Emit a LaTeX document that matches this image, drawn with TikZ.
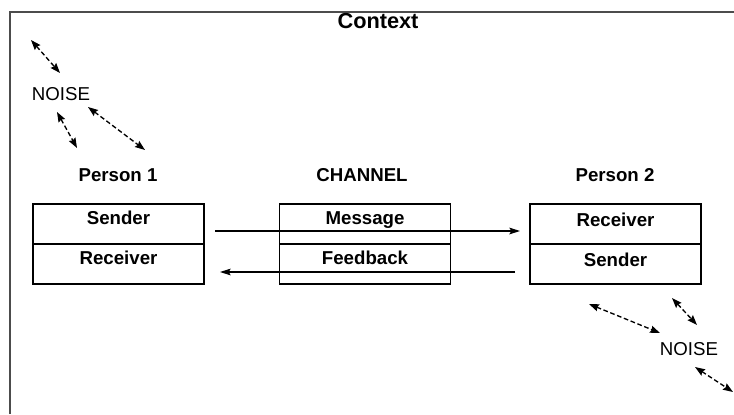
\documentclass[tikz,border=0pt]{standalone}
\usepackage{fontspec}
\setmainfont{Liberation Sans}
\usetikzlibrary{calc}
\usetikzlibrary{arrows.meta}
\usetikzlibrary{positioning}

\newcommand\mainsize{\fontsize{14}{16}\selectfont}

\tikzset{
  cell/.style={draw,line width=1.1pt,outer sep=0pt,inner sep=0pt,
    minimum width=128.25pt,minimum height=30pt,font=\mainsize\bfseries,
    text height=10pt,text depth=9pt},
  heading/.style={font=\mainsize\bfseries},
  flow/.style={line width=0.8pt,-{Stealth[length=8pt,width=5pt,inset=1.5pt]}},
  noisy/.style={line width=1pt,dash pattern=on 3.5pt off 2pt,
    {Stealth[length=7.5pt,width=5.5pt,inset=1pt]}-{Stealth[length=7.5pt,width=5.5pt,inset=1pt]}}
}

% two stacked cells: name, x, upper text, lower text, extra options
\newcommand\commbox[5]{
  \node[cell,#5] (#1top) at (#2,224) {#3};
  \node[cell,#5,below=0pt of #1top] (#1bot) {#4};
}

\begin{document}
\begin{tikzpicture}[x=0.75pt,y=-0.75pt,font=\mainsize]
  \useasboundingbox (0,0) rectangle (734,414);

  % context frame
  \draw[black!70,line width=0.8pt] (10,414) |- (734,12);
  \node[font=\fontsize{16.3}{18}\selectfont\bfseries] (context) at (378,21) {Context};

  % people and channel
  \node[heading] (person1) at (118,175) {Person 1};
  \node[heading] (channel) at (362,175) {CHANNEL};
  \node[heading] (person2) at (615,175) {Person 2};

  \commbox{p1}{118.5}{Sender}{Receiver}{}
  \commbox{ch}{365}{Message}{Feedback}{}
  \commbox{p2}{615.5}{Receiver}{Sender}{text depth=6pt}

  \draw[flow] ($(p1top.east)+(11,7)$) -- ($(p2top.west)+(-10,7)$);
  \draw[flow] ($(p2bot.west)+(-15,8)$) -- ($(p1bot.east)+(16,8)$);

  % noise
  \node (noise1) at (61,94) {NOISE};
  \node (noise2) at (689,349) {NOISE};

  \foreach \ax/\ay/\bx/\by in {-30/-54/-1/-21, -4/18/16/54, 27/13/84/56}
    \draw[noisy] ($(noise1)+(\ax,\ay)$) -- ($(noise1)+(\bx,\by)$);

  \foreach \ax/\ay/\bx/\by in {-100/-45/-29/-16, -17/-51/8/-24, 6/18/44/43}
    \draw[noisy] ($(noise2)+(\ax,\ay)$) -- ($(noise2)+(\bx,\by)$);

\end{tikzpicture}
\end{document}
